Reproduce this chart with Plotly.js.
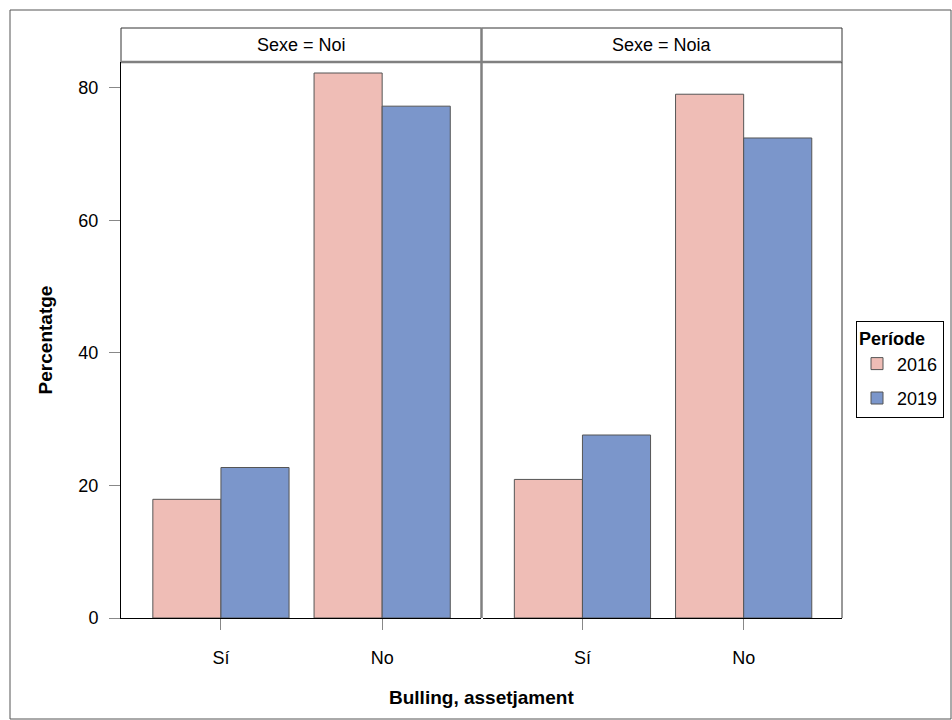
<!DOCTYPE html>
<html>
<head>
<meta charset="utf-8">
<script src="https://cdn.plot.ly/plotly-3.0.1.min.js"></script>
<style>html,body{margin:0;padding:0;background:#fff;}#chart{width:952px;height:720px;}</style>
</head>
<body>
<div id="chart"></div>
<script>
const categories = ['Sí', 'No'];
const panels = ['Noi', 'Noia'];
const periods = ['2016', '2019'];
const noi2016 = [17.9, 82.2];
const noi2019 = [22.7, 77.2];
const noia2016 = [20.9, 79.0];
const noia2019 = [27.6, 72.4];

const colors = {'2016': '#EFBDB6', '2019': '#7B96CB'};
const font = 'Liberation Sans, Arial, sans-serif';

function bar(y, period, xa, showleg) {
  return {
    type: 'bar', x: categories, y: y, name: period,
    xaxis: xa, yaxis: 'y',
    marker: {color: colors[period], line: {color: '#555555', width: 1}},
    legendgroup: period, showlegend: showleg,
    hoverinfo: 'x+y+name'
  };
}

const data = [
  bar(noi2016, periods[0], 'x', true),
  bar(noi2019, periods[1], 'x', true),
  bar(noia2016, periods[0], 'x2', false),
  bar(noia2019, periods[1], 'x2', false)
];

const L = 121, R = 842, T = 62, B = 618, W = 952, H = 720;
const pw = R - L, ph = B - T;
const px = v => (v - L) / pw;
const py = v => (B - v) / ph;

const xcommon = {
  type: 'category', range: [-0.62, 1.61], showline: true, linecolor: '#000', linewidth: 1,
  ticks: 'outside', ticklen: 11, tickcolor: '#888', tickwidth: 1, ticklabelstandoff: 12,
  tickfont: {family: font, size: 18, color: '#000'}, showgrid: false, zeroline: false,
  anchor: 'y', fixedrange: true, automargin: false
};

const layout = {
  width: W, height: H,
  margin: {l: L, r: W - R, t: T, b: H - B, pad: 0, autoexpand: false},
  paper_bgcolor: '#fff', plot_bgcolor: '#fff',
  font: {family: font, size: 18, color: '#000'},
  barmode: 'group', bargap: 0.155, bargroupgap: 0,
  xaxis: Object.assign({}, xcommon, {domain: [0, px(480.5)]}),
  xaxis2: Object.assign({}, xcommon, {domain: [px(482.5), 1]}),
  yaxis: {
    range: [0, (B - T) / 6.63], showline: true, linecolor: '#000', linewidth: 1,
    ticks: 'outside', ticklen: 11, tickcolor: '#888', tickwidth: 1,
    tickvals: [0, 20, 40, 60, 80], ticklabelstandoff: 7,
    tickfont: {family: font, size: 18, color: '#000'}, showgrid: false, zeroline: false,
    title: {text: '<b>Percentatge</b>', font: {family: font, size: 19, color: '#000'}, standoff: 20},
    fixedrange: true, automargin: false
  },
  showlegend: true,
  legend: {
    x: px(856), y: py(321), xanchor: 'left', yanchor: 'top',
    bordercolor: '#000', borderwidth: 1, bgcolor: '#fff',
    title: {text: '<b>Període</b>', font: {family: font, size: 18, color: '#000'}},
    font: {family: font, size: 18, color: '#000'},
    traceorder: 'grouped', tracegroupgap: 8
  },
  shapes: [
    // outer border
    {type: 'rect', xref: 'paper', yref: 'paper', x0: px(10), x1: px(951), y0: py(719), y1: py(10), line: {color: '#555', width: 1}, layer: 'below'},
    // strip boxes
    {type: 'rect', xref: 'paper', yref: 'paper', x0: 0, x1: px(481.5), y0: 1, y1: py(28), line: {color: '#333', width: 1}, fillcolor: '#fff'},
    {type: 'rect', xref: 'paper', yref: 'paper', x0: px(481.5), x1: 1, y0: 1, y1: py(28), line: {color: '#333', width: 1}, fillcolor: '#fff'},
    // gray separator under strips
    {type: 'line', xref: 'paper', yref: 'paper', x0: 0, x1: 1, y0: 1, y1: 1, line: {color: '#808080', width: 2.5}},
    // panel divider
    {type: 'line', xref: 'paper', yref: 'paper', x0: px(481.5), x1: px(481.5), y0: 0, y1: py(28), line: {color: '#808080', width: 2.5}},
    // right border
    {type: 'line', xref: 'paper', yref: 'paper', x0: 1, x1: 1, y0: 0, y1: 1, line: {color: '#333', width: 1}}
  ],
  annotations: [
    {xref: 'paper', yref: 'paper', x: px((L + 481.5) / 2), y: py(45), text: 'Sexe = ' + panels[0], showarrow: false, font: {family: font, size: 18, color: '#000'}, xanchor: 'center', yanchor: 'middle'},
    {xref: 'paper', yref: 'paper', x: px((481.5 + R) / 2), y: py(45), text: 'Sexe = ' + panels[1], showarrow: false, font: {family: font, size: 18, color: '#000'}, xanchor: 'center', yanchor: 'middle'},
    {xref: 'paper', yref: 'paper', x: 0.5, y: py(697), text: '<b>Bulling, assetjament</b>', showarrow: false, font: {family: font, size: 19, color: '#000'}, xanchor: 'center', yanchor: 'middle'}
  ]
};

Plotly.newPlot('chart', data, layout, {displayModeBar: false, staticPlot: true});
</script>
</body>
</html>
